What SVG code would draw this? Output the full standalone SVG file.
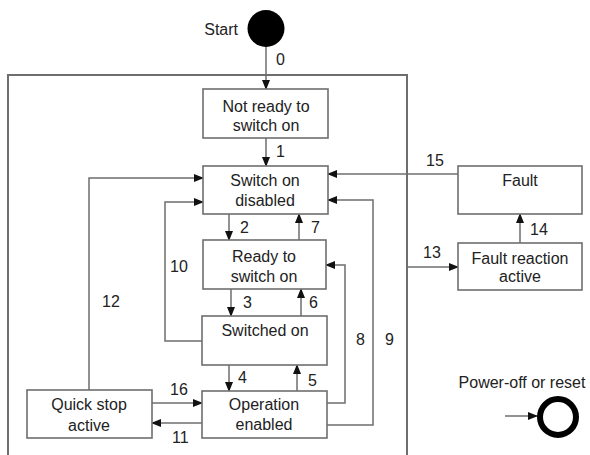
<svg xmlns="http://www.w3.org/2000/svg" width="590" height="455" viewBox="0 0 590 455">
<defs>
<marker id="ah" markerUnits="userSpaceOnUse" markerWidth="10" markerHeight="8" refX="9" refY="4" orient="auto">
<path d="M0,0 L10,4 L0,8 Z" fill="#111"/>
</marker>
<style>
.box{fill:#fff;stroke:#6e6e6e;stroke-width:1.6}
.ln{fill:none;stroke:#6e6e6e;stroke-width:1.5}
.ar{fill:none;stroke:#6e6e6e;stroke-width:1.5;marker-end:url(#ah)}
text{font-family:"Liberation Sans",Arial,sans-serif;font-size:16px;fill:#222}
.c{text-anchor:middle}
</style>
</defs>
<rect width="590" height="455" fill="#fff"/>
<g id="frame">
<path class="ln" d="M8 455 V75 H407 V455" style="stroke-width:2"/>
</g>
<g id="start">
<circle cx="266" cy="28.5" r="18.5" fill="#000"/>
<text x="238" y="35" text-anchor="end">Start</text>
</g>
<g id="connectors">
<path class="ar" d="M266 47 V89"/>
<path class="ar" d="M266 138 V166"/>
<path class="ar" d="M229 214 V240"/>
<path class="ar" d="M299 240 V214"/>
<path class="ar" d="M231 289 V316"/>
<path class="ar" d="M301 316 V289"/>
<path class="ar" d="M229 365 V391"/>
<path class="ar" d="M297 391 V365"/>
<path class="ar" d="M327 403 H345 V265 H326"/>
<path class="ar" d="M327 425 H373 V200 H328"/>
<path class="ar" d="M202 341 H165 V202 H203"/>
<path class="ar" d="M89 390 V178 H203"/>
<path class="ar" d="M152 403 H202"/>
<path class="ar" d="M202 423 H152"/>
<path class="ar" d="M458 174 H328"/>
<path class="ar" d="M407 267 H458"/>
<path class="ar" d="M520 243 V214"/>
<path class="ar" d="M505 416 H537"/>
<text x="276" y="65">0</text>
<text x="276" y="157">1</text>
<text x="240" y="233">2</text>
<text x="311" y="233">7</text>
<text x="243" y="308">3</text>
<text x="309" y="308">6</text>
<text x="238" y="383">4</text>
<text x="308" y="386">5</text>
<text x="356" y="345">8</text>
<text x="385" y="345">9</text>
<text x="170" y="272">10</text>
<text x="102" y="307">12</text>
<text x="170" y="395">16</text>
<text x="172" y="443">11</text>
<text x="426" y="166">15</text>
<text x="423" y="258">13</text>
<text x="530" y="235">14</text>
</g>
<g id="not-ready">
<rect class="box" x="203" y="89" width="125" height="49"/>
<text class="c" x="266" y="112">Not ready to</text>
<text class="c" x="266" y="131">switch on</text>
</g>
<g id="switch-on-disabled">
<rect class="box" x="203" y="166" width="125" height="48"/>
<text class="c" x="265" y="186">Switch on</text>
<text class="c" x="265" y="206">disabled</text>
</g>
<g id="ready-to-switch-on">
<rect class="box" x="203" y="240" width="123" height="49"/>
<text class="c" x="264" y="262">Ready to</text>
<text class="c" x="264" y="282">switch on</text>
</g>
<g id="switched-on">
<rect class="box" x="202" y="316" width="125" height="49"/>
<text class="c" x="265" y="336">Switched on</text>
</g>
<g id="operation-enabled">
<rect class="box" x="202" y="391" width="125" height="47"/>
<text class="c" x="264" y="410">Operation</text>
<text class="c" x="264" y="430">enabled</text>
</g>
<g id="quick-stop-active">
<rect class="box" x="27" y="390" width="125" height="48"/>
<text class="c" x="89" y="410">Quick stop</text>
<text class="c" x="89" y="431">active</text>
</g>
<g id="fault">
<rect class="box" x="458" y="166" width="124" height="48"/>
<text class="c" x="520" y="186">Fault</text>
</g>
<g id="fault-reaction-active">
<rect class="box" x="458" y="243" width="124" height="47"/>
<text class="c" x="520" y="264">Fault reaction</text>
<text class="c" x="520" y="282">active</text>
</g>
<g id="power-off">
<text class="c" x="522" y="388">Power-off or reset</text>
<circle cx="558" cy="417" r="18" fill="none" stroke="#000" stroke-width="6"/>
</g>
</svg>
